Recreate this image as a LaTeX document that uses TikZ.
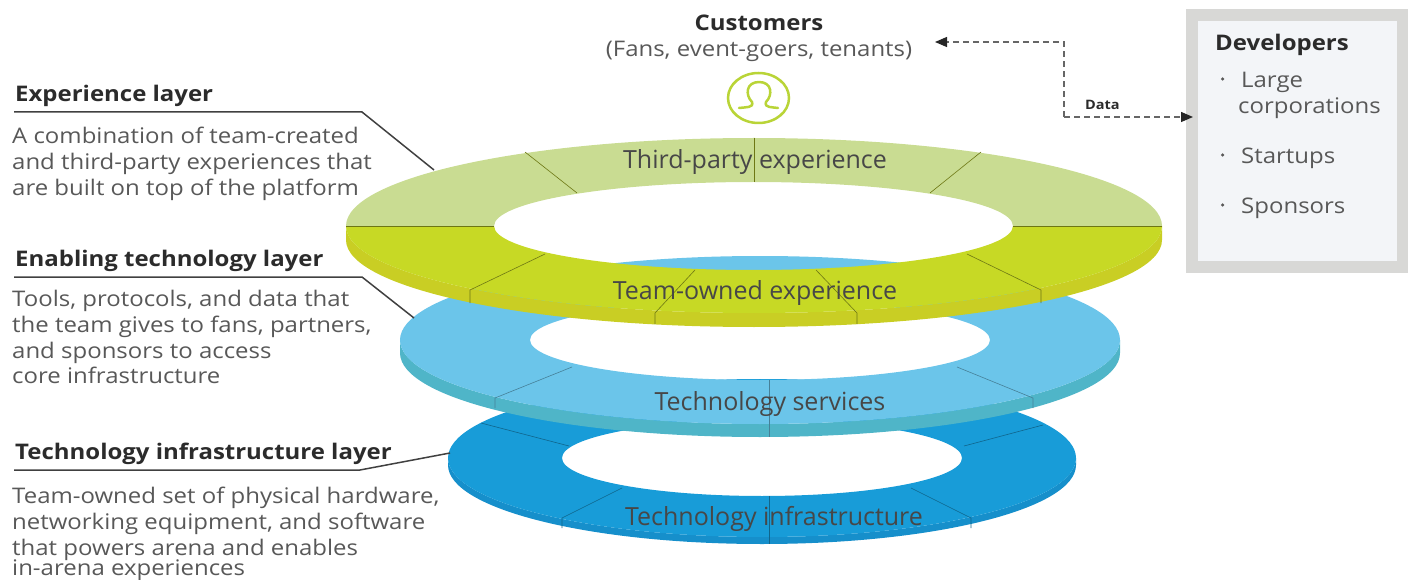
\documentclass[tikz,border=0pt]{standalone}
\usepackage{fontspec}
\setmainfont[FakeStretch=1.115]{Open Sans}
\newfontfamily\ringfont{Open Sans}
\usetikzlibrary{arrows.meta,shapes.geometric}
\definecolor{greenLight}{HTML}{C9DC92}
\definecolor{yellowTop}{HTML}{C7D925}
\definecolor{yellowSide}{HTML}{C9CE24}
\definecolor{iconGreen}{HTML}{B9D437}
\definecolor{blueLight}{HTML}{6BC5EA}
\definecolor{blueLightSide}{HTML}{4FB5C8}
\definecolor{blueDark}{HTML}{189CD8}
\definecolor{blueDarkSide}{HTML}{168FCB}
\definecolor{inkText}{HTML}{585858}
\definecolor{inkHead}{HTML}{2B2B2B}
\definecolor{boxEdge}{HTML}{D8D8D6}
\definecolor{boxFill}{HTML}{F3F5F8}
\tikzset{
  x=1pt,y=-1pt,
  head/.style={anchor=base west,inner sep=0pt,font=\fontsize{21.5}{26}\selectfont\bfseries,text=inkHead},
  body/.style={anchor=base west,inner sep=0pt,font=\fontsize{21.5}{26}\selectfont,text=inkText,align=left},
  ringlabel/.style={inner sep=0pt,font=\ringfont\fontsize{25}{28}\selectfont,text=black!72},
  leader/.style={draw=black!75,line width=1.5pt},
  seg/.style={line width=.6pt},
  flow/.style={draw=black!60,line width=1.3pt,dash pattern=on 6pt off 4pt},
  flowtip/.style={-{Triangle[length=12pt,width=10pt,black!85]}},
  bulletdot/.style={circle,fill=inkText,minimum size=3.5pt,inner sep=0pt},
}
\begin{document}
\begin{tikzpicture}
\useasboundingbox (0,0) rectangle (1411,580);
% lower ring
\fill[blueDarkSide] (448,458) arc[start angle=180,end angle=0,x radius=314,y radius=79] -- ++(0,7) arc[start angle=0,end angle=180,x radius=314,y radius=79] -- cycle;
\fill[blueDark,even odd rule] (762,458) ellipse[x radius=314,y radius=79] (762,458) ellipse[x radius=200,y radius=38];
\begin{scope}[seg,draw=black!35!blueDark]
\draw (481,423) -- (569,446); \draw (1043,425) -- (964,446);
\draw (622,488) -- (562,518) -- (562,528); \draw (911,488) -- (971,518) -- (971,528);
\draw (769,496) -- (769,544);
\end{scope}
% middle ring
\fill[blueLightSide] (400,340) arc[start angle=180,end angle=0,x radius=360,y radius=84] -- ++(0,13) arc[start angle=0,end angle=180,x radius=360,y radius=84] -- cycle;
\fill[blueLight,even odd rule] (760,340) ellipse[x radius=360,y radius=84] (760,340) ellipse[x radius=230,y radius=40];
\begin{scope}[seg,draw=black!35!blueLight]
\draw (572,367) -- (495,398) -- (495,408); \draw (957,367) -- (1033,398) -- (1033,408);
\draw (769,380) -- (769,437);
\end{scope}
% upper ring
\fill[yellowSide] (346,226) arc[start angle=180,end angle=0,x radius=408,y radius=87] -- ++(0,14) arc[start angle=0,end angle=180,x radius=408,y radius=87] -- cycle;
\fill[yellowTop] (346,226) arc[start angle=180,end angle=0,x radius=408,y radius=87] -- (1013,226) arc[start angle=0,end angle=180,x radius=259.5,y radius=44] -- cycle;
\fill[greenLight] (346,226) arc[start angle=180,end angle=360,x radius=408,y radius=88] -- (1013,226) arc[start angle=360,end angle=180,x radius=259.5,y radius=44] -- cycle;
\begin{scope}[seg,draw=black!45!yellowTop]
\draw (346,226) -- (494,226); \draw (1013,226) -- (1162,226);
\draw (525,152) -- (577,193); \draw (754,138) -- (754,182); \draw (981,152) -- (930,193);
\draw (545,254) -- (470,290) -- (470,303); \draw (967,254) -- (1041,290) -- (1041,303);
\draw (695,270) -- (655,313) -- (655,324); \draw (816,270) -- (857,313) -- (857,324);
\end{scope}
% ring labels
\node[ringlabel] (third) at (755,162) {Third-party experience};
\node[ringlabel] (team) at (755,293) {Team-owned experience};
\node[ringlabel] (serv) at (770,404) {Technology services};
\node[ringlabel] (infra) at (774,519) {Technology infrastructure};
% left text
\node[head] (h1) at (15,102) {Experience layer};
\node[body] (b11) at (12,144) {A combination of team-created};
\node[body] (b12) at (12,170) {and third-party experiences that};
\node[body] (b13) at (12,196) {are built on top of the platform};
\node[head] (h2) at (15,266) {Enabling technology layer};
\node[body] (b21) at (12,306) {Tools, protocols, and data that};
\node[body] (b22) at (12,332) {the team gives to fans, partners,};
\node[body] (b23) at (12,358) {and sponsors to access};
\node[body] (b24) at (12,383) {core infrastructure};
\node[head] (h3) at (15,459) {Technology infrastructure layer};
\node[body] (b31) at (12,503) {Team-owned set of physical hardware,};
\node[body] (b32) at (12,529) {networking equipment, and software};
\node[body] (b33) at (12,555) {that powers arena and enables};
\node[body] (b34) at (12,575) {in-arena experiences};
% leaders
\coordinate (l1a) at (14,112); \coordinate (l1b) at (362,112); \coordinate (l1c) at (434,170);
\coordinate (l2a) at (14,277); \coordinate (l2b) at (362,277); \coordinate (l2c) at (414,318);
\coordinate (l3a) at (14,470); \coordinate (l3b) at (360,470); \coordinate (l3c) at (450,453);
\draw[leader] (l1a) -- (l1b) -- (l1c);
\draw[leader] (l2a) -- (l2b) -- (l2c);
\draw[leader] (l3a) -- (l3b) -- (l3c);
% customers
\node[head,anchor=base] (cust) at (759,31) {Customers};
\node[body,anchor=base] (custsub) at (759,57) {(Fans, event-goers, tenants)};
\node[ellipse,draw=iconGreen,line width=2.5pt,minimum width=61pt,minimum height=50pt,inner sep=0pt] (icon) at (758.5,98) {};
\draw[iconGreen,line width=2.5pt,line cap=round,line join=round] (739,108) .. controls (746,107) and (754,108) .. (752,102) .. controls (745,95) and (746,82) .. (759,82) .. controls (772,82) and (773,95) .. (766,102) .. controls (764,108) and (772,107) .. (778,108);
% developers box
\node[draw=boxEdge,fill=boxFill,line width=11.5pt,minimum width=210.5pt,minimum height=251.5pt,inner sep=0pt] (dev) at (1297,141) {};
\node[head] (devh) at (1215,51) {Developers};
\node[body] (d1) at (1241,88) {Large};
\node[body] (d1b) at (1238,114) {corporations};
\node[body] (d2) at (1241,164) {Startups};
\node[body] (d3) at (1241,214) {Sponsors};
\node[bulletdot] (p1) at (1222.5,79) {};
\node[bulletdot] (p2) at (1222.5,155) {};
\node[bulletdot] (p3) at (1222.5,205) {};
% data
\coordinate (turn) at (1064,117);
\coordinate (custend) at (935,42);
\coordinate (devend) at (1193,117);
\draw[flow,flowtip] (turn) -- (turn |- custend) -- (custend);
\draw[flow,flowtip] (turn) -- (devend);
\node[head,font=\fontsize{13}{15}\selectfont\bfseries] (data) at (1085,110) {Data};
\end{tikzpicture}
\end{document}
